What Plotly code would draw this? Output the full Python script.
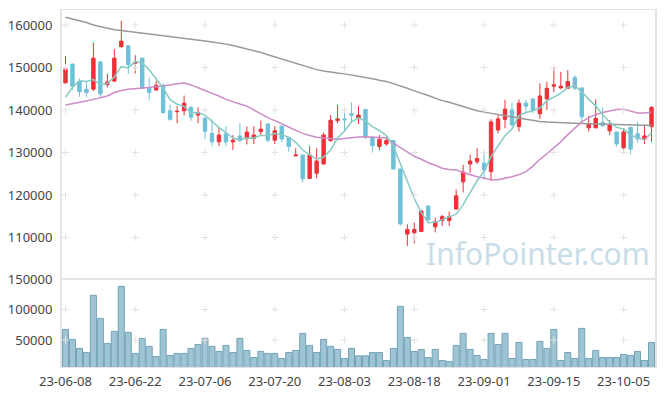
import itertools
import plotly.graph_objects as go

dates = [
    "23-06-08", "23-06-09", "23-06-12", "23-06-13", "23-06-14", "23-06-15", "23-06-16", "23-06-19", "23-06-20", "23-06-21",
    "23-06-22", "23-06-23", "23-06-26", "23-06-27", "23-06-28", "23-06-29", "23-06-30", "23-07-03", "23-07-04", "23-07-05",
    "23-07-06", "23-07-07", "23-07-10", "23-07-11", "23-07-12", "23-07-13", "23-07-14", "23-07-17", "23-07-18", "23-07-19",
    "23-07-20", "23-07-21", "23-07-24", "23-07-25", "23-07-26", "23-07-27", "23-07-28", "23-07-31", "23-08-01", "23-08-02",
    "23-08-03", "23-08-04", "23-08-07", "23-08-08", "23-08-09", "23-08-10", "23-08-11", "23-08-14", "23-08-16", "23-08-17",
    "23-08-18", "23-08-21", "23-08-22", "23-08-23", "23-08-24", "23-08-25", "23-08-28", "23-08-29", "23-08-30", "23-08-31",
    "23-09-01", "23-09-04", "23-09-05", "23-09-06", "23-09-07", "23-09-08", "23-09-11", "23-09-12", "23-09-13", "23-09-14",
    "23-09-15", "23-09-18", "23-09-19", "23-09-20", "23-09-21", "23-09-22", "23-09-25", "23-09-26", "23-09-27", "23-10-04",
    "23-10-05", "23-10-06", "23-10-10", "23-10-11", "23-10-12",
]

open_ = [
    146400, 150800, 146700, 144900, 144900, 151300, 146000, 146800, 154900, 155100,
    151000, 152200, 145100, 144700, 145800, 139800, 139600, 139800, 140600, 138800,
    138100, 134500, 132500, 134400, 132500, 133900, 133300, 133300, 134900, 136700,
    132900, 136200, 133500, 129200, 129400, 123900, 125100, 127300, 132800, 137500,
    137900, 139100, 138000, 140100, 133600, 131400, 132000, 132800, 126100, 110800,
    111100, 111400, 117400, 112500, 114000, 114000, 116700, 123100, 127300, 127800,
    127500, 125500, 135300, 137800, 140000, 136100, 141600, 142600, 139100, 142600,
    145600, 145200, 145100, 147600, 145200, 135800, 135800, 137100, 135100, 134800,
    131100, 135900, 134400, 133100, 136100,
]
high = [
    152700, 150900, 147400, 146700, 155900, 151600, 148500, 154300, 161000, 155200,
    152900, 152300, 147600, 146900, 146300, 141300, 140900, 143400, 140900, 140600,
    138200, 137800, 135800, 136200, 134100, 136900, 136100, 136200, 137500, 136800,
    136200, 136300, 133600, 131000, 129500, 131500, 131000, 134700, 138800, 141200,
    139600, 141800, 140900, 140300, 133700, 134100, 133900, 132900, 126200, 113100,
    113500, 116500, 117500, 114700, 115300, 116100, 121300, 127100, 129500, 131000,
    130200, 137800, 138800, 142400, 141800, 142500, 142400, 142700, 146300, 146700,
    150000, 149000, 149400, 148200, 145300, 138600, 142500, 140600, 137600, 134900,
    135700, 136000, 137200, 136600, 140900,
]
low = [
    146200, 144700, 143100, 143000, 144500, 143100, 145300, 146600, 154700, 148500,
    148600, 145000, 142400, 144500, 139100, 137500, 136900, 138700, 137500, 136900,
    133100, 131500, 131500, 131500, 130600, 132500, 131900, 132000, 134100, 132400,
    132000, 132400, 130200, 129100, 122900, 123800, 123900, 127100, 132500, 136900,
    135300, 136900, 136700, 133100, 130000, 130500, 131600, 126000, 112800, 108000,
    108600, 111300, 114000, 111200, 112700, 112700, 116500, 120600, 125200, 127300,
    123500, 123300, 134500, 135700, 136100, 134900, 139600, 139200, 137900, 140000,
    144200, 144900, 144900, 144700, 137200, 134900, 135700, 136100, 134100, 131400,
    130000, 129600, 132300, 132000, 132500,
]
close = [
    149600, 145600, 144300, 144100, 152200, 143800, 146600, 152200, 156200, 150700,
    151200, 145100, 144100, 145800, 139400, 137800, 139700, 141600, 138300, 139400,
    135000, 132500, 134100, 132500, 132900, 132800, 134800, 134100, 135500, 132900,
    135100, 133200, 131400, 129400, 123800, 129400, 128000, 134100, 137600, 137900,
    137700, 138800, 138800, 133600, 131600, 133100, 132800, 126100, 113200, 111900,
    111900, 116200, 114100, 113700, 114900, 114900, 119800, 125400, 128000, 128600,
    125900, 137200, 137900, 140200, 136500, 141600, 140900, 140000, 143300, 145100,
    145900, 145600, 146700, 145100, 138400, 136700, 138000, 136300, 136500, 132000,
    134800, 130800, 133200, 133900, 140600,
]
volume = [
    67500, 51100, 36400, 29800, 123300, 85600, 44600, 64300, 138000, 62600,
    28200, 52800, 39700, 23300, 67500, 24900, 28200, 28200, 36400, 42900,
    52800, 39700, 31500, 41300, 29800, 52800, 33100, 21600, 31500, 28200,
    28200, 20000, 29800, 33100, 61000, 41300, 29800, 51100, 39700, 34800,
    20000, 36400, 24300, 24300, 29800, 29800, 16700, 36400, 105200, 54400,
    31500, 34800, 21600, 34800, 16700, 15100, 41300, 61000, 34800, 24900,
    18400, 61000, 42900, 61000, 20000, 46200, 18400, 18400, 47900, 36400,
    67500, 16700, 29800, 20000, 69200, 20000, 33100, 21600, 21600, 21600,
    26600, 24900, 31500, 16700, 46200,
]
ma5 = [
    143000, 145300, 146900, 146700, 147160, 146000, 146200, 147780, 150200, 149900,
    151380, 151080, 149460, 147380, 145120, 142440, 141360, 140860, 139360, 139360,
    138800, 137360, 135860, 134700, 133400, 132960, 133420, 133420, 134020, 134020,
    134480, 134160, 133620, 132400, 130580, 129440, 128400, 128940, 130580, 133400,
    135060, 137220, 138160, 137360, 136100, 135180, 133980, 131440, 127360, 123420,
    119180, 115860, 113460, 113560, 114160, 114760, 115480, 117740, 120600, 123340,
    125540, 129020, 131520, 133960, 135540, 138680, 139420, 139840, 140460, 142180,
    143040, 143980, 145320, 145680, 144340, 142500, 140980, 138900, 137180, 135900,
    135520, 134080, 133460, 132940, 134660,
]
ma20 = [
    141200, 141450, 141700, 142100, 142500, 142900, 143300, 144100, 144600, 144900,
    145100, 145200, 145300, 145450, 145650, 145900, 146200, 146350, 145900, 145300,
    144600, 143900, 143300, 142500, 141900, 141400, 140900, 140000, 139000, 138200,
    137500, 136800, 136000, 135200, 134500, 134000, 133600, 133400, 133200, 133100,
    133300, 133550, 133650, 133700, 133650, 133550, 133400, 132200, 131100, 130200,
    129100, 128400, 127600, 127000, 126300, 126000, 125900, 125300, 124800, 124300,
    124000, 123600, 123600, 123900, 124300, 124800, 125500, 126800, 128400, 129700,
    131000, 132500, 134200, 135800, 137200, 138200, 138900, 139400, 139800, 140100,
    140200, 139800, 139300, 139300, 139500,
]
ma60 = [
    161800, 161400, 161000, 160600, 160000, 159600, 159200, 158900, 158700, 158500,
    158400, 158200, 157950, 157750, 157550, 157350, 157150, 156950, 156700, 156450,
    156250, 156000, 155800, 155500, 155200, 154800, 154450, 154050, 153550, 153000,
    152500, 152000, 151500, 151000, 150400, 149900, 149500, 149200, 148900, 148700,
    148500, 148250, 148000, 147700, 147350, 147000, 146700, 146200, 145700, 145100,
    144500, 144000, 143400, 142800, 142200, 141800, 141300, 140800, 140300, 139800,
    139500, 139250, 139000, 138700, 138400, 138100, 137800, 137500, 137300, 137150,
    137050, 137000, 136950, 136900, 136850, 136800, 136750, 136700, 136650, 136600,
    136550, 136500, 136450, 136400, 136350,
]
price_ticks = [110000, 120000, 130000, 140000, 150000, 160000]
volume_ticks = [50000, 100000, 150000]
date_ticks = dates[::10]

RED = "#ee3138"
BLUE = "#6ec1d8"
GRID = "#e2e2e2"
AXIS = "#e4e4e4"
FONT = dict(family="Noto Sans, Open Sans, sans-serif", size=13, color="#444444")

fig = go.Figure()

# grid "+" marks at tick intersections
gx, gy = zip(*itertools.product(date_ticks, price_ticks))
gx2, gy2 = zip(*itertools.product(date_ticks, volume_ticks[:-1]))

fig.add_trace(go.Scatter(x=dates, y=ma60, mode="lines", line=dict(color="#999999", width=1.5),
                         xaxis="x", yaxis="y", showlegend=False))
fig.add_trace(go.Scatter(x=dates, y=ma20, mode="lines", line=dict(color="#cc8cc6", width=1.5),
                         xaxis="x", yaxis="y", showlegend=False))
fig.add_trace(go.Candlestick(
    x=dates, open=open_, high=high, low=low, close=close, xaxis="x", yaxis="y",
    increasing=dict(line=dict(color=RED, width=1), fillcolor=RED),
    decreasing=dict(line=dict(color=BLUE, width=1), fillcolor=BLUE),
    whiskerwidth=0, showlegend=False))
fig.add_trace(go.Scatter(x=dates, y=ma5, mode="lines", line=dict(color="#86cbc4", width=1.5),
                         xaxis="x", yaxis="y", showlegend=False))

fig.add_trace(go.Bar(x=dates, y=volume, xaxis="x2", yaxis="y2",
                     marker=dict(color="rgba(135,182,201,0.8)", line=dict(color="#72a2b7", width=1)),
                     width=0.86, showlegend=False))

fig.add_trace(go.Scatter(x=list(gx), y=list(gy), mode="markers", xaxis="x", yaxis="y",
                         marker=dict(symbol="cross-thin", size=5, line=dict(color=GRID, width=1)),
                         hoverinfo="skip", showlegend=False))
fig.add_trace(go.Scatter(x=list(gx2), y=list(gy2), mode="markers", xaxis="x2", yaxis="y2",
                         marker=dict(symbol="cross-thin", size=5, line=dict(color=GRID, width=1)),
                         hoverinfo="skip", showlegend=False))

split = 88 / 357
fig.update_layout(
    width=665, height=396,
    margin=dict(l=62, r=10, t=10, b=29),
    paper_bgcolor="white", plot_bgcolor="white",
    font=FONT,
    xaxis=dict(type="category", categoryorder="array", categoryarray=dates,
               domain=[0, 1], anchor="y", range=[-0.5, 84.5],
               showticklabels=False, showgrid=False, zeroline=False, automargin=False,
               showline=True, linecolor=AXIS, linewidth=1, mirror=True,
               rangeslider=dict(visible=False)),
    yaxis=dict(domain=[split, 1], range=[100230, 163530], tickmode="array", automargin=False,
               tickvals=price_ticks, ticktext=[str(v) for v in price_ticks],
               showgrid=False, zeroline=False, showline=True, linecolor=AXIS, linewidth=2,
               mirror=True, ticks="outside", ticklen=5, tickcolor="rgba(0,0,0,0)"),
    xaxis2=dict(type="category", categoryorder="array", categoryarray=dates,
                domain=[0, 1], anchor="y2", range=[-0.5, 84.5], automargin=False,
                tickmode="array", tickvals=date_ticks, ticktext=date_ticks, tickangle=0,
                showgrid=False, zeroline=False, showline=True, linecolor=AXIS, linewidth=1,
                mirror=True, ticks="outside", ticklen=2, tickcolor="rgba(0,0,0,0)"),
    yaxis2=dict(domain=[0, split], range=[6000, 150000], tickmode="array", automargin=False,
                tickvals=volume_ticks, ticktext=[str(v) for v in volume_ticks],
                showgrid=False, zeroline=False, showline=True, linecolor=AXIS, linewidth=2,
                mirror=True, ticks="outside", ticklen=5, tickcolor="rgba(0,0,0,0)"),
    bargap=0.14,
    annotations=[dict(text="InfoPointer.com", xref="paper", yref="paper", x=0.803, y=0.317,
                      xanchor="center", yanchor="middle", showarrow=False,
                      font=dict(family="Noto Sans, Open Sans, sans-serif", size=30, color="#c9dde8"))],
)

fig.write_html("out.html", config={"displayModeBar": False},
               post_script="document.body.style.margin='0';document.body.style.padding='0';")
